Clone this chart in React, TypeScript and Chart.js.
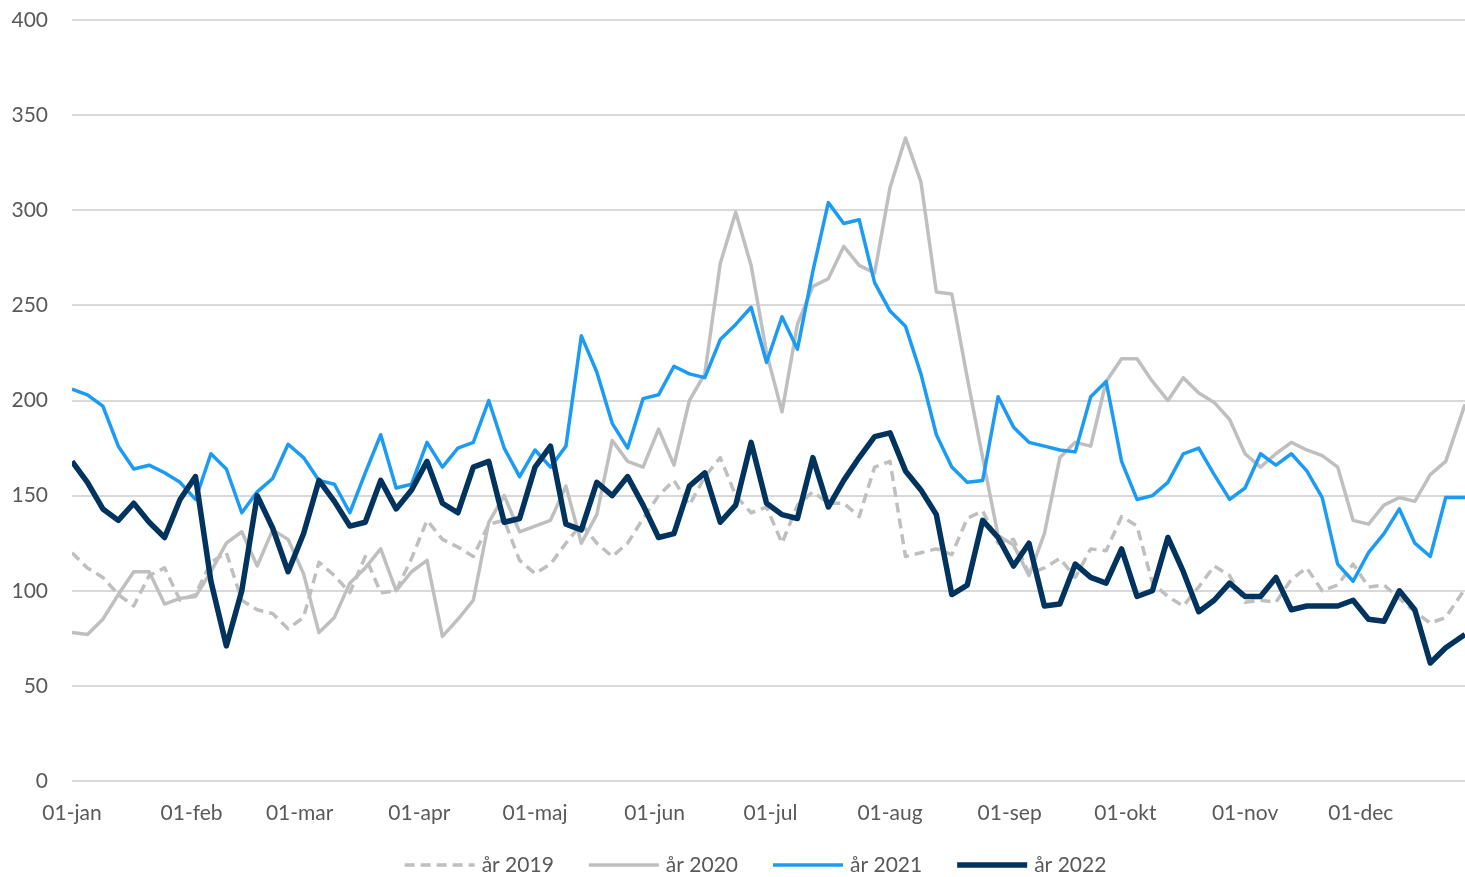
import React, { useEffect, useRef } from 'react';
import { Chart, registerables } from 'chart.js';

Chart.register(...registerables);

// Day of year (0 = 01-jan) for every sampled point
const days = [
  0, 4, 8, 12, 16, 20, 24, 28, 32, 36, 40, 44, 48, 52, 56, 60, 64, 68, 72, 76,
  80, 84, 88, 92, 96, 100, 104, 108, 112, 116, 120, 124, 128, 132, 136, 140, 144, 148, 152, 156,
  160, 164, 168, 172, 176, 180, 184, 188, 192, 196, 200, 204, 208, 212, 216, 220, 224, 228, 232, 236,
  240, 244, 248, 252, 256, 260, 264, 268, 272, 276, 280, 284, 288, 292, 296, 300, 304, 308, 312, 316,
  320, 324, 328, 332, 336, 340, 344, 348, 352, 356, 361,
];

const monthStartDays = [0, 31, 59, 90, 120, 151, 181, 212, 243, 273, 304, 334];
const monthLabels = ['01-jan', '01-feb', '01-mar', '01-apr', '01-maj', '01-jun', '01-jul', '01-aug', '01-sep', '01-okt', '01-nov', '01-dec'];
const yTicks = [0, 50, 100, 150, 200, 250, 300, 350, 400];

const seriesLabels = ['år 2019', 'år 2020', 'år 2021', 'år 2022'];

const values2019 = [
  120, 112, 107, 98, 92, 108, 112, 95, 98, 115,
  120, 95, 90, 88, 80, 86, 115, 108, 99, 118,
  99, 100, 117, 137, 127, 123, 118, 135, 137, 116,
  109, 114, 125, 135, 125, 118, 125, 138, 150, 158,
  145, 160, 170, 150, 141, 144, 125, 145, 152, 146,
  146, 139, 165, 168, 118, 120, 122, 119, 138, 142,
  125, 127, 109, 112, 117, 107, 122, 121, 139, 134,
  104, 97, 92, 102, 113, 108, 94, 95, 94, 106,
  112, 100, 103, 114, 102, 103, 96, 89, 83, 86,
  101,
];

const values2020 = [
  78, 77, 85, 98, 110, 110, 93, 96, 97, 110,
  125, 131, 113, 132, 127, 109, 78, 86, 104, 112,
  122, 100, 110, 116, 76, 85, 95, 136, 150, 131,
  134, 137, 155, 125, 140, 179, 168, 165, 185, 166,
  200, 214, 272, 299, 271, 225, 194, 240, 260, 264,
  281, 271, 267, 312, 338, 315, 257, 256, 212, 170,
  129, 124, 108, 130, 170, 178, 176, 210, 222, 222,
  210, 200, 212, 204, 199, 190, 172, 165, 172, 178,
  174, 171, 165, 137, 135, 145, 149, 147, 161, 168,
  198,
];

const values2021 = [
  206, 203, 197, 176, 164, 166, 162, 157, 148, 172,
  164, 141, 152, 159, 177, 170, 158, 156, 141, 162,
  182, 154, 156, 178, 165, 175, 178, 200, 175, 160,
  174, 165, 176, 234, 215, 188, 175, 201, 203, 218,
  214, 212, 232, 240, 249, 220, 244, 227, 268, 304,
  293, 295, 262, 247, 239, 214, 182, 165, 157, 158,
  202, 186, 178, 176, 174, 173, 202, 210, 168, 148,
  150, 157, 172, 175, 161, 148, 154, 172, 166, 172,
  163, 149, 114, 105, 120, 130, 143, 125, 118, 149,
  149,
];

const values2022 = [
  168, 157, 143, 137, 146, 136, 128, 148, 160, 105,
  71, 100, 150, 133, 110, 130, 158, 147, 134, 136,
  158, 143, 153, 168, 146, 141, 165, 168, 136, 138,
  165, 176, 135, 132, 157, 150, 160, 145, 128, 130,
  155, 162, 136, 145, 178, 146, 140, 138, 170, 144,
  158, 170, 181, 183, 163, 153, 140, 98, 103, 137,
  128, 113, 125, 92, 93, 114, 107, 104, 122, 97,
  100, 128, 110, 89, 95, 104, 97, 97, 107, 90,
  92, 92, 92, 95, 85, 84, 100, 90, 62, 70,
  77,
];

const toPoints = (vals: number[]) => days.map((d, i) => ({ x: d, y: vals[i] }));

const TEXT = '#595959';
const FONT = 'Lato, "Open Sans", sans-serif';

// Legend drawn as line samples (with the dataset's dash) followed by the label
const lineLegend = {
  id: 'lineLegend',
  afterDraw(chart: any) {
    const ctx = chart.ctx as CanvasRenderingContext2D;
    const items = [...chart.data.datasets].reverse();
    const lineLen = 70;
    const gapText = 7;
    const gapItem = 35;
    ctx.save();
    ctx.font = `21px ${FONT}`;
    const widths = items.map((ds: any) => lineLen + gapText + ctx.measureText(ds.label).width);
    const total = widths.reduce((a: number, b: number) => a + b, 0) + gapItem * (items.length - 1);
    const area = chart.chartArea;
    const cx = (area.left + area.right) / 2 - 13;
    const y = area.bottom + 84;
    let x = cx - total / 2;
    items.forEach((ds: any, i: number) => {
      ctx.beginPath();
      ctx.strokeStyle = ds.borderColor;
      ctx.lineWidth = ds.borderWidth;
      ctx.lineCap = 'butt';
      ctx.setLineDash(ds.borderDash || []);
      ctx.moveTo(x, y);
      ctx.lineTo(x + lineLen, y);
      ctx.stroke();
      ctx.setLineDash([]);
      ctx.fillStyle = TEXT;
      ctx.textBaseline = 'middle';
      ctx.textAlign = 'left';
      ctx.fillText(ds.label, x + lineLen + gapText, y);
      x += widths[i] + gapItem;
    });
    ctx.restore();
  },
};

export default function App() {
  const ref = useRef<HTMLCanvasElement | null>(null);

  useEffect(() => {
    if (!ref.current) return;
    document.body.style.overflow = 'hidden';
    const chart = new Chart(ref.current, {
      type: 'line',
      data: {
        datasets: [
          {
            label: seriesLabels[3],
            data: toPoints(values2022),
            borderColor: '#00345E',
            backgroundColor: '#00345E',
            borderWidth: 5.5,
          },
          {
            label: seriesLabels[2],
            data: toPoints(values2021),
            borderColor: '#1B9BF3',
            backgroundColor: '#1B9BF3',
            borderWidth: 3.5,
          },
          {
            label: seriesLabels[1],
            data: toPoints(values2020),
            borderColor: '#BFBFBF',
            backgroundColor: '#BFBFBF',
            borderWidth: 3.5,
          },
          {
            label: seriesLabels[0],
            data: toPoints(values2019),
            borderColor: '#BFBFBF',
            backgroundColor: '#BFBFBF',
            borderWidth: 3.5,
            borderDash: [10, 6],
          },
        ],
      },
      plugins: [lineLegend],
      options: {
        responsive: false,
        animation: false,
        layout: { padding: { top: 20, left: 0, right: 0, bottom: 0 } },
        elements: {
          point: { radius: 0, hoverRadius: 0 },
          line: { tension: 0, borderCapStyle: 'butt', borderJoinStyle: 'round' },
        },
        plugins: {
          tooltip: { enabled: false },
          legend: { display: false },
        },
        scales: {
          x: {
            type: 'linear',
            min: 0,
            max: 361,
            grid: { display: false },
            border: { display: false },
            afterBuildTicks: (axis: any) => {
              axis.ticks = monthStartDays.map((v) => ({ value: v }));
            },
            afterFit: (axis: any) => {
              axis.height = 96;
            },
            ticks: {
              autoSkip: false,
              maxRotation: 0,
              padding: 12,
              color: TEXT,
              font: { family: FONT, size: 21 },
              callback: (v: any) => {
                const i = monthStartDays.indexOf(Number(v));
                return i >= 0 ? monthLabels[i] : '';
              },
            },
          },
          y: {
            min: 0,
            max: 400,
            grid: {
              color: '#D9D9D9',
              lineWidth: 2,
              drawTicks: true,
              tickLength: 24,
              tickColor: 'rgba(0,0,0,0)',
            },
            border: { display: false },
            afterBuildTicks: (axis: any) => {
              axis.ticks = yTicks.map((v) => ({ value: v }));
            },
            afterFit: (axis: any) => {
              axis.width = 72;
            },
            ticks: {
              padding: 0,
              color: TEXT,
              font: { family: FONT, size: 21 },
            },
          },
        },
      },
    });
    return () => chart.destroy();
  }, []);

  return (
    <div style={{ position: 'absolute', left: 0, top: 0, width: 1465, height: 877, background: '#fff' }}>
      <canvas ref={ref} width={1465} height={877} style={{ display: 'block' }} />
    </div>
  );
}
